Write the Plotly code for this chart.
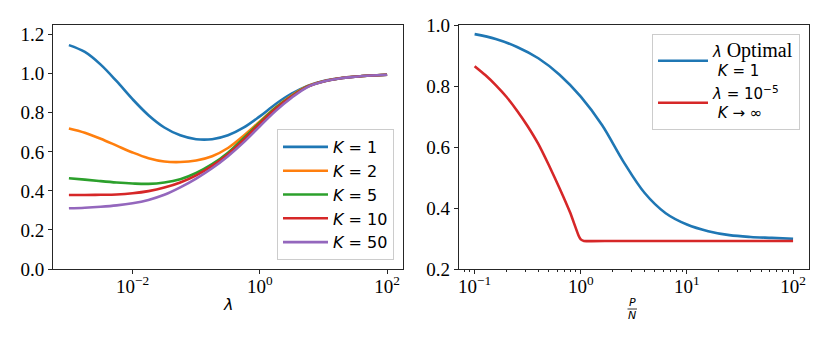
import plotly.graph_objects as go

# ---------------- data ----------------
# Left panel: error vs lambda for several K
lam = [0.001, 0.00178, 0.00316, 0.00562, 0.01, 0.0178, 0.0316, 0.0562, 0.1, 0.178,
       0.316, 0.562, 1.0, 1.78, 3.16, 5.62, 10.0, 17.8, 31.6, 56.2, 100.0]
err_k1 = [1.147, 1.112, 1.047, 0.962, 0.870, 0.788, 0.725, 0.685, 0.665, 0.665,
          0.685, 0.725, 0.782, 0.845, 0.898, 0.938, 0.963, 0.977, 0.986, 0.991, 0.995]
err_k2 = [0.720, 0.698, 0.667, 0.632, 0.597, 0.568, 0.551, 0.548, 0.556, 0.578,
          0.620, 0.684, 0.756, 0.828, 0.889, 0.936, 0.962, 0.977, 0.986, 0.991, 0.995]
err_k5 = [0.465, 0.458, 0.450, 0.443, 0.438, 0.436, 0.443, 0.460, 0.492, 0.537,
          0.596, 0.672, 0.751, 0.826, 0.885, 0.935, 0.961, 0.976, 0.985, 0.991, 0.995]
err_k10 = [0.379, 0.379, 0.380, 0.382, 0.388, 0.399, 0.417, 0.443, 0.480, 0.528,
           0.588, 0.663, 0.745, 0.821, 0.883, 0.934, 0.961, 0.976, 0.985, 0.991, 0.995]
err_k50 = [0.311, 0.314, 0.319, 0.326, 0.337, 0.354, 0.380, 0.418, 0.463, 0.516,
           0.578, 0.650, 0.731, 0.810, 0.877, 0.932, 0.960, 0.976, 0.985, 0.991, 0.995]
left_series = [("1", err_k1), ("2", err_k2), ("5", err_k5), ("10", err_k10), ("50", err_k50)]

# Right panel: error vs P/N
pn_opt = [0.1, 0.158, 0.251, 0.398, 0.631, 1.0, 1.585, 2.512, 3.981, 6.31,
          10.0, 15.85, 25.12, 39.81, 63.1, 100.0]
err_opt = [0.970, 0.954, 0.928, 0.891, 0.837, 0.765, 0.672, 0.553, 0.450, 0.383,
           0.346, 0.324, 0.311, 0.305, 0.302, 0.299]
pn_inf = [0.1, 0.126, 0.158, 0.2, 0.251, 0.316, 0.398, 0.501, 0.631, 0.794,
          0.955, 1.0, 1.07, 2.0, 10.0, 100.0]
err_inf = [0.865, 0.836, 0.803, 0.764, 0.719, 0.668, 0.610, 0.540, 0.465, 0.385,
           0.309, 0.297, 0.292, 0.292, 0.292, 0.292]

left_xticks = [0.01, 1, 100]
left_xticktext = ["10<sup>−2</sup>", "10<sup>0</sup>", "10<sup>2</sup>"]
right_xticks = [0.1, 1, 10, 100]
right_xticktext = ["10<sup>−1</sup>", "10<sup>0</sup>", "10<sup>1</sup>", "10<sup>2</sup>"]
left_yticks = [0.0, 0.2, 0.4, 0.6, 0.8, 1.0, 1.2]
right_yticks = [0.2, 0.4, 0.6, 0.8, 1.0]
right_minor = [m * 10 ** e for e in (-2, -1, 0, 1) for m in range(2, 10)]

colors = ["#1f77b4", "#ff7f0e", "#2ca02c", "#d62728", "#9467bd"]

# ---------------- figure ----------------
# The page body has an 8px margin, so the figure is placed 8px in and sized to fit.
OFF = 8
W, H = 830 - 2 * OFF, 346 - 2 * OFF
SERIF = "Liberation Serif"
SANS = "DejaVu Sans"


def fx(px):
    return (px - OFF) / W


def fy(py):
    return 1 - (py - OFF) / H


fig = go.Figure()
for i, (k, ys) in enumerate(left_series):
    fig.add_trace(go.Scatter(
        x=lam, y=ys, mode="lines", xaxis="x", yaxis="y",
        line=dict(color=colors[i], width=2.6, shape="spline", smoothing=1.0),
        name="<i>K</i> = " + k, legend="legend", legendgroup="g%d" % i))

fig.add_trace(go.Scatter(
    x=pn_opt, y=err_opt, mode="lines", xaxis="x2", yaxis="y2",
    line=dict(color=colors[0], width=2.6, shape="spline", smoothing=1.0),
    name="<i>λ</i> <span style='font-family:Liberation Serif;font-size:20px'>Optimal</span><br> <i>K</i> = 1",
    legend="legend2", legendgroup="a"))
fig.add_trace(go.Scatter(
    x=pn_inf, y=err_inf, mode="lines", xaxis="x2", yaxis="y2",
    line=dict(color=colors[3], width=2.6, shape="spline", smoothing=0.5),
    name="<i>λ</i> = 10<sup>−5</sup><br> <i>K</i> → ∞",
    legend="legend2", legendgroup="b"))

axis_common = dict(showgrid=False, zeroline=False, showline=True, mirror=True,
                   linecolor="#262626", linewidth=1, ticks="outside", ticklen=4,
                   tickwidth=1, tickcolor="#262626", automargin=False,
                   tickfont=dict(family=SERIF, size=19, color="black"))

fig.update_layout(
    width=W, height=H,
    margin=dict(l=0, r=0, t=0, b=0, autoexpand=False),
    paper_bgcolor="white", plot_bgcolor="white",
    xaxis=dict(axis_common, type="log", range=[-3.25, 2.25], domain=[fx(53), fx(403)],
               anchor="y", tickmode="array", tickvals=left_xticks, ticktext=left_xticktext,
               ticklabelstandoff=-4),
    yaxis=dict(axis_common, range=[0, 1.25], domain=[fy(269), fy(25)],
               anchor="x", tickmode="array", tickvals=left_yticks,
               ticktext=["%.1f" % v for v in left_yticks]),
    xaxis2=dict(axis_common, type="log", range=[-1.15, 2.15], domain=[fx(458.7), fx(809)],
                anchor="y2", tickmode="array", tickvals=right_xticks, ticktext=right_xticktext,
                ticklabelstandoff=-4,
                minor=dict(tickmode="array", tickvals=right_minor, ticks="outside",
                           ticklen=2, tickcolor="#262626", showgrid=False)),
    yaxis2=dict(axis_common, range=[0.2, 1.0], domain=[fy(269), fy(25)],
                anchor="x2", tickmode="array", tickvals=right_yticks,
                ticktext=["%.1f" % v for v in right_yticks]),
    legend=dict(x=fx(394), y=fy(260), xanchor="right", yanchor="bottom",
                bgcolor="rgba(255,255,255,0.85)", bordercolor="#cccccc", borderwidth=1,
                font=dict(family=SANS, size=16, color="black"), tracegroupgap=0,
                itemwidth=45),
    legend2=dict(x=fx(800), y=fy(33.7), xanchor="right", yanchor="top",
                 bgcolor="rgba(255,255,255,0.85)", bordercolor="#cccccc", borderwidth=1,
                 font=dict(family=SANS, size=15, color="black"), tracegroupgap=0,
                 itemwidth=50),
    annotations=[
        dict(text="<i>λ</i>", x=fx(227.7), y=fy(304), xref="paper", yref="paper",
             showarrow=False, font=dict(family=SANS, size=16, color="black"),
             xanchor="center", yanchor="middle"),
        dict(text="<i>P</i>", x=fx(632.3), y=fy(302), xref="paper", yref="paper",
             showarrow=False, font=dict(family=SANS, size=11, color="black"),
             xanchor="center", yanchor="middle"),
        dict(text="<i>N</i>", x=fx(632.3), y=fy(315.5), xref="paper", yref="paper",
             showarrow=False, font=dict(family=SANS, size=11, color="black"),
             xanchor="center", yanchor="middle"),
    ],
    shapes=[
        dict(type="line", xref="paper", yref="paper",
             x0=fx(627.5), x1=fx(637), y0=fy(309), y1=fy(309),
             line=dict(color="black", width=0.8)),
    ],
)

fig.write_html("out.html")
